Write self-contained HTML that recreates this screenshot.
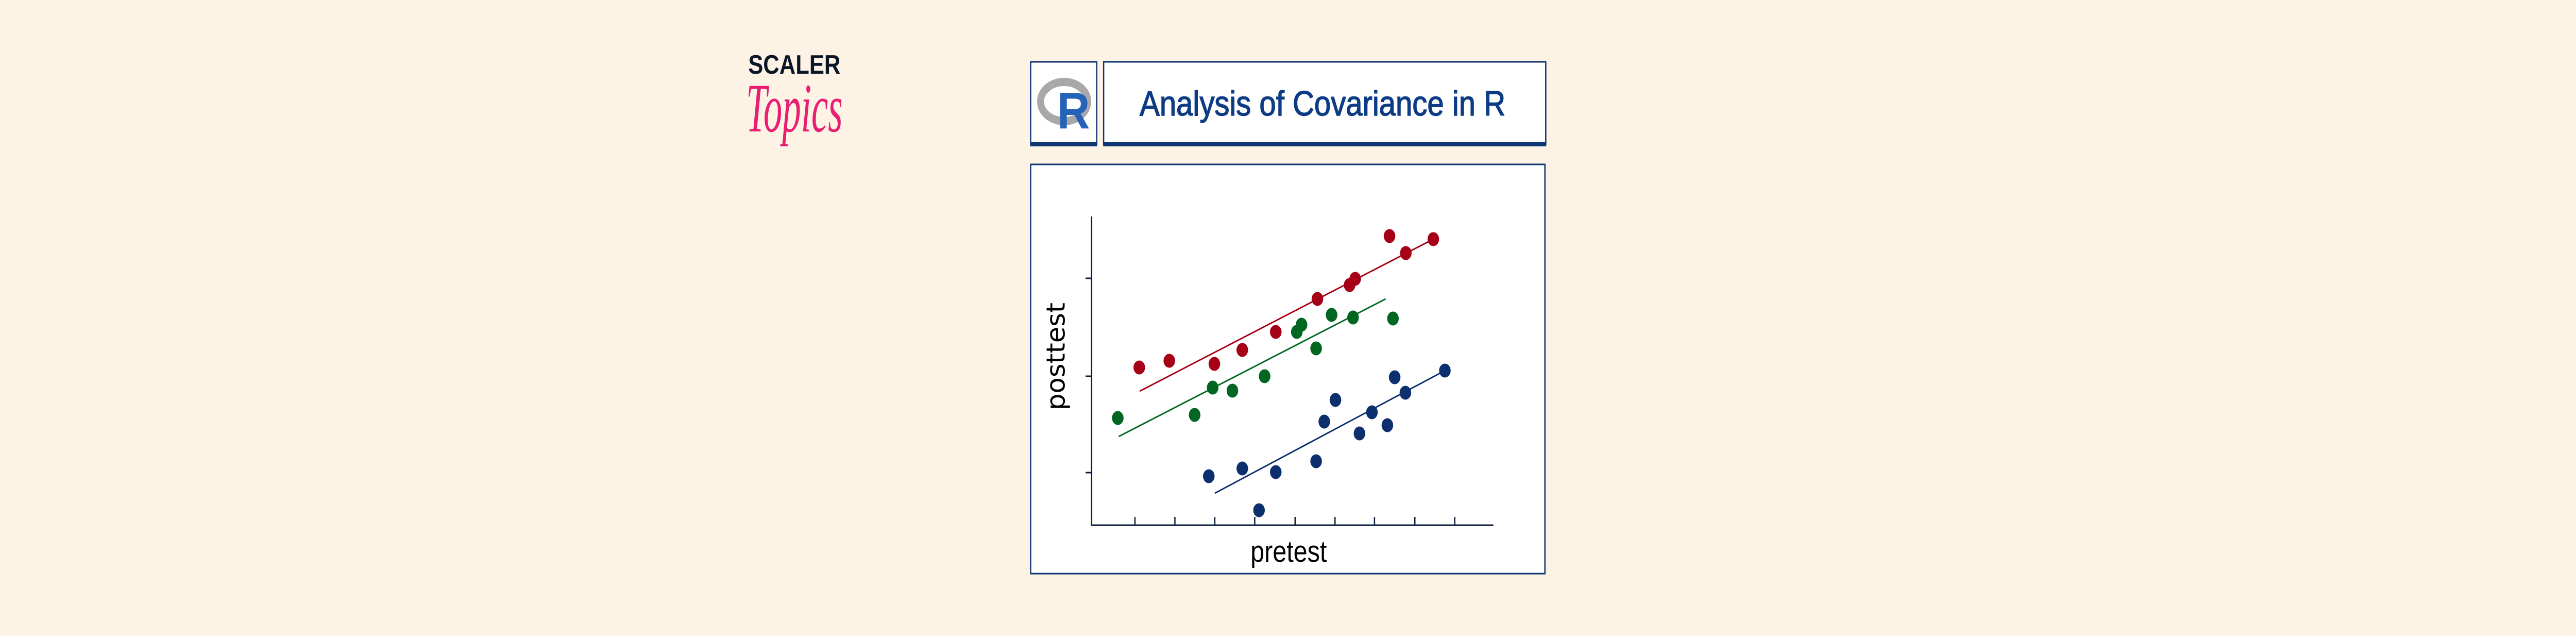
<!DOCTYPE html>
<html><head><meta charset="utf-8"><style>
html,body{margin:0;padding:0;background:#fdf3e5;overflow:hidden;width:100vw;height:100vh;}
svg{display:block;width:100vw;height:100vh;}
</style></head><body>
<svg viewBox="0 0 6001 1234" preserveAspectRatio="none" xmlns="http://www.w3.org/2000/svg">
<rect width="6001" height="1234" fill="#fdf3e5"/>
<!-- Scaler logo -->
<text x="1743" y="143" font-family="Liberation Sans, sans-serif" font-weight="bold" font-size="52" fill="#0b1628" textLength="215" lengthAdjust="spacingAndGlyphs">SCALER</text>
<text x="1738" y="255" font-family="Liberation Serif, serif" font-style="italic" font-size="135" fill="#e91e72" textLength="225" lengthAdjust="spacingAndGlyphs">Topics</text>
<!-- R box -->
<rect x="2401" y="120" width="154" height="160" fill="#fff" stroke="#0d3572" stroke-width="3"/>
<rect x="2400" y="276" width="156" height="8" fill="#0d3572"/>
<ellipse cx="2479" cy="197" rx="55" ry="38" fill="none" stroke="#a8a8aa" stroke-width="16"/>
<text x="2463" y="249" font-family="Liberation Sans, sans-serif" font-weight="bold" font-size="100" fill="#2463b8" textLength="76" lengthAdjust="spacingAndGlyphs">R</text>
<!-- title box -->
<rect x="2571" y="120" width="1030" height="160" fill="#fff" stroke="#0d3572" stroke-width="3"/>
<rect x="2570" y="276" width="1032" height="8" fill="#0d3572"/>
<text x="2655" y="224" font-family="Liberation Sans, sans-serif" font-size="68" fill="#0d3c85" stroke="#0d3c85" stroke-width="1.5" textLength="852" lengthAdjust="spacingAndGlyphs">Analysis of Covariance in R</text>
<!-- plot box -->
<rect x="2401" y="319" width="1198" height="794" fill="#fff" stroke="#0d3572" stroke-width="3"/>
<g stroke="#0c1f3d" stroke-width="3">
<line x1="2543" y1="420" x2="2543" y2="1020"/>
<line x1="2542" y1="1019" x2="3479" y2="1019"/>
<line x1="2529" y1="540" x2="2543" y2="540"/>
<line x1="2529" y1="730" x2="2543" y2="730"/>
<line x1="2529" y1="917" x2="2543" y2="917"/>
<line x1="2644" y1="1003" x2="2644" y2="1019"/>
<line x1="2737" y1="1003" x2="2737" y2="1019"/>
<line x1="2830" y1="1003" x2="2830" y2="1019"/>
<line x1="2923" y1="1003" x2="2923" y2="1019"/>
<line x1="3017" y1="1003" x2="3017" y2="1019"/>
<line x1="3110" y1="1003" x2="3110" y2="1019"/>
<line x1="3202" y1="1003" x2="3202" y2="1019"/>
<line x1="3296" y1="1003" x2="3296" y2="1019"/>
<line x1="3389" y1="1003" x2="3389" y2="1019"/>
</g>
<text x="2913" y="1090" font-family="Liberation Sans, sans-serif" font-size="58" fill="#000" textLength="178" lengthAdjust="spacingAndGlyphs">pretest</text>
<text transform="translate(2480,796) rotate(-90)" x="0" y="0" font-family="DejaVu Sans, sans-serif" font-size="60" fill="#000" textLength="209" lengthAdjust="spacingAndGlyphs">posttest</text>
<!-- lines -->
<line x1="2655" y1="759" x2="3339" y2="464" stroke="#a50016" stroke-width="3"/>
<line x1="2606" y1="847" x2="3228" y2="580" stroke="#006622" stroke-width="3"/>
<line x1="2830" y1="957" x2="3366" y2="719" stroke="#0d2f6e" stroke-width="3"/>
<g fill="#a50016">
<circle cx="2654" cy="713" r="13.5"/><circle cx="2724" cy="700" r="13.5"/><circle cx="2829" cy="706" r="13.5"/>
<circle cx="2894" cy="679" r="13.5"/><circle cx="2972" cy="644" r="13.5"/><circle cx="3069" cy="580" r="13.5"/>
<circle cx="3144" cy="553" r="13.5"/><circle cx="3157" cy="541" r="13.5"/><circle cx="3237" cy="458" r="13.5"/>
<circle cx="3275" cy="491" r="13.5"/><circle cx="3339" cy="464" r="13.5"/>
</g>
<g fill="#006622">
<circle cx="2604" cy="811" r="13.5"/><circle cx="2783" cy="805" r="13.5"/><circle cx="2825" cy="752" r="13.5"/>
<circle cx="2871" cy="758" r="13.5"/><circle cx="2946" cy="730" r="13.5"/><circle cx="3021" cy="644" r="13.5"/>
<circle cx="3032" cy="630" r="13.5"/><circle cx="3066" cy="676" r="13.5"/><circle cx="3102" cy="611" r="13.5"/>
<circle cx="3152" cy="616" r="13.5"/><circle cx="3245" cy="618" r="13.5"/>
</g>
<g fill="#0d2f6e">
<circle cx="2816" cy="924" r="13.5"/><circle cx="2894" cy="909" r="13.5"/><circle cx="2972" cy="916" r="13.5"/>
<circle cx="2933" cy="990" r="13.5"/><circle cx="3066" cy="895" r="13.5"/><circle cx="3085" cy="818" r="13.5"/>
<circle cx="3111" cy="776" r="13.5"/><circle cx="3167" cy="841" r="13.5"/><circle cx="3196" cy="800" r="13.5"/>
<circle cx="3232" cy="825" r="13.5"/><circle cx="3249" cy="732" r="13.5"/><circle cx="3274" cy="762" r="13.5"/>
<circle cx="3366" cy="719" r="13.5"/>
</g>
</svg>
</body></html>
